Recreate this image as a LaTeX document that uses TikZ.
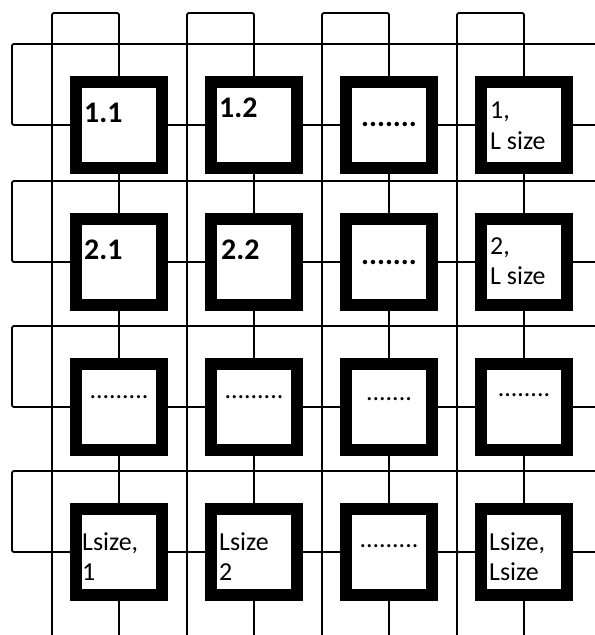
\documentclass[tikz,border=0pt]{standalone}
\usepackage{fontspec}
\setmainfont{Carlito}
\usetikzlibrary{calc}

\begin{document}
\begin{tikzpicture}[x=1bp,y=-1bp,
  pe/.style={draw=black,line width=12bp,minimum size=86bp,inner sep=0pt,fill=white},
  wire/.style={line width=1.8bp,rounded corners=2bp},
  lbl/.style={anchor=north west,inner sep=0pt,align=left,font=\fontsize{30}{32}\selectfont\bfseries},
  lblsm/.style={anchor=north west,inner sep=0pt,align=left,font=\fontsize{26}{31}\selectfont},
  bigdots/.style={inner sep=0pt,font=\fontsize{30}{30}\selectfont\bfseries},
  smdots/.style={inner sep=0pt,font=\fontsize{26}{26}\selectfont}]
  \useasboundingbox (0,0) rectangle (595,635);

  % processing elements
  \foreach \r/\y in {1/125,2/262,3/407,4/552}
    \foreach \c/\x in {1/119,2/254,3/389,4/524}
      \node[pe] (b\r\c) at (\x,\y) {};

  % column wrap-around lines
  \foreach \c/\x in {1/119,2/254,3/389,4/524} {
    \coordinate (top\c) at (\x,13);
    \coordinate (wt\c) at (\x-67,13);
    \coordinate (wb\c) at (\x-67,635);
    \coordinate (bot\c) at (\x,635);
    \draw[wire] (b1\c.north) -- (top\c) -- (wt\c) -- (wb\c);
    \draw[wire] (b1\c.south) -- (b2\c.north);
    \draw[wire] (b2\c.south) -- (b3\c.north);
    \draw[wire] (b3\c.south) -- (b4\c.north);
    \draw[wire] (b4\c.south) -- (bot\c);
  }

  % row wrap-around lines
  \foreach \r/\y in {1/125,2/262,3/407,4/552} {
    \coordinate (le\r) at (12,\y);
    \coordinate (lt\r) at (12,\y-81);
    \coordinate (rt\r) at (595,\y-81);
    \coordinate (re\r) at (595,\y);
    \draw[wire] (b\r1.west) -- (le\r) -- (lt\r) -- (rt\r);
    \draw[wire] (b\r1.east) -- (b\r2.west);
    \draw[wire] (b\r2.east) -- (b\r3.west);
    \draw[wire] (b\r3.east) -- (b\r4.west);
    \draw[wire] (b\r4.east) -- (re\r);
  }

  % labels
  \node[lbl] (t11) at ([xshift=14bp,yshift=-27bp]b11.north west) {1.1};
  \node[lbl] (t12) at ([xshift=14bp,yshift=-22bp]b12.north west) {1.2};
  \node[bigdots] (t13) at (b13) {.......};
  \node[lblsm] (t14) at ([xshift=15bp,yshift=-26bp]b14.north west) {1,\\L size};
  \node[lbl] (t21) at ([xshift=14bp,yshift=-27bp]b21.north west) {2.1};
  \node[lbl] (t22) at ([xshift=16bp,yshift=-27bp]b22.north west) {2.2};
  \node[bigdots] (t23) at (b23) {.......};
  \node[lblsm] (t24) at ([xshift=15bp,yshift=-24bp]b24.north west) {2,\\L size};
  \node[smdots] (t31) at ([yshift=10bp]b31) {.........};
  \node[smdots] (t32) at ([yshift=10bp]b32) {.........};
  \node[smdots] (t33) at ([yshift=8bp]b33) {.......};
  \node[smdots] (t34) at ([yshift=12bp]b34) {........};
  \node[lblsm] (t41) at ([xshift=12bp,yshift=-29bp]b41.north west) {Lsize,\\1};
  \node[lblsm] (t42) at ([xshift=14bp,yshift=-29bp]b42.north west) {Lsize\\2};
  \node[smdots] (t43) at ([yshift=6bp]b43) {.........};
  \node[lblsm] (t44) at ([xshift=14bp,yshift=-29bp]b44.north west) {Lsize,\\Lsize};
\end{tikzpicture}
\end{document}
